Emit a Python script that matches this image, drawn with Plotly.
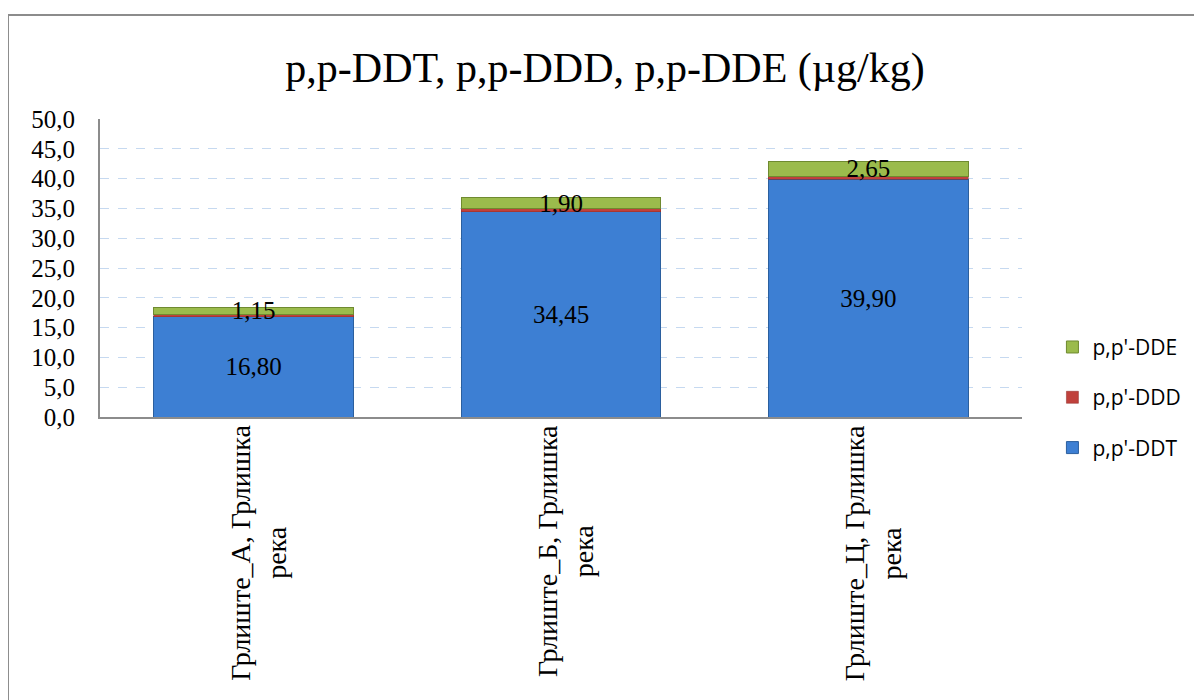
import plotly.graph_objects as go

# Data
categories = ["Грлиште_А, Грлишка<br>река", "Грлиште_Б, Грлишка<br>река", "Грлиште_Ц, Грлишка<br>река"]
ddt = [16.80, 34.45, 39.90]
ddd = [0.45, 0.50, 0.40]
dde = [1.15, 1.90, 2.65]
y_ticks = [0, 5, 10, 15, 20, 25, 30, 35, 40, 45, 50]

serif = "Liberation Serif"
x_idx = [0, 1, 2]

fig = go.Figure()
fig.add_trace(go.Bar(
    x=x_idx, y=ddt, name="p,p'-DDT", legendgroup="ddt", legendrank=3,
    marker=dict(color="#3d7fd3", line=dict(color="#2b5f9e", width=1)),
    texttemplate="%{y:.2f}", textposition="inside", insidetextanchor="middle",
    textfont=dict(family=serif, size=25, color="black"),
))
fig.add_trace(go.Bar(
    x=x_idx, y=ddd, name="p,p'-DDD", legendgroup="ddd", legendrank=2,
    marker=dict(color="#c0413c", line=dict(color="#8e2b27", width=0.5)),
))
fig.add_trace(go.Bar(
    x=x_idx, y=dde, name="p,p'-DDE", legendgroup="dde", legendrank=1,
    marker=dict(color="#9bbb4c", line=dict(color="#6f8a30", width=1)),
    texttemplate="%{y:.2f}", textposition="inside", insidetextanchor="middle",
    textfont=dict(family=serif, size=25, color="black"),
    cliponaxis=False,
))

# category labels as rotated annotations (centered lines)
for i, c in enumerate(categories):
    fig.add_annotation(
        x=i, y=0, xref="x", yref="paper", text=c, showarrow=False,
        textangle=-90, yanchor="top", yshift=-6, xshift=4, align="center",
        font=dict(family=serif, size=28, color="black"),
    )

# outer chart border
fig.add_shape(type="line", xref="paper", yref="paper",
              x0=-0.0998, x1=-0.0998, y0=1.349, y1=-1.0,
              line=dict(color="#8c8c8c", width=2))
fig.add_shape(type="line", xref="paper", yref="paper",
              x0=-0.0998, x1=1.2, y0=1.349, y1=1.349,
              line=dict(color="#8c8c8c", width=2))

fig.update_layout(
    width=1194, height=692,
    barmode="stack", bargap=0.35,
    separators=",.",
    uniformtext=dict(mode="show", minsize=25),
    paper_bgcolor="white", plot_bgcolor="white",
    margin=dict(l=92, r=180, t=111, b=283),
    title=dict(text="p,p-DDT, p,p-DDD, p,p-DDE (µg/kg)", x=0.5, xanchor="center",
               y=0.915, yanchor="middle",
               font=dict(family=serif, size=42, color="black")),
    xaxis=dict(range=[-0.5, 2.5], tickvals=x_idx, showticklabels=False,
               showline=True, linecolor="#8c8c8c", linewidth=2, showgrid=False,
               zeroline=False),
    yaxis=dict(range=[0, 50], tickvals=y_ticks, tickformat=".1f",
               showline=True, linecolor="#8c8c8c", linewidth=2,
               showgrid=True, gridcolor="#c6d9f0", griddash="dash", gridwidth=1,
               zeroline=False, ticks="", ticklen=0, ticklabelstandoff=18,
               tickfont=dict(family=serif, size=25, color="black")),
    legend=dict(x=1.033, y=0.066, xanchor="left", yanchor="middle",
                traceorder="grouped", tracegroupgap=20,
                font=dict(family="Open Sans", size=21, color="black")),
    showlegend=True,
)

fig.write_html("out.html")
